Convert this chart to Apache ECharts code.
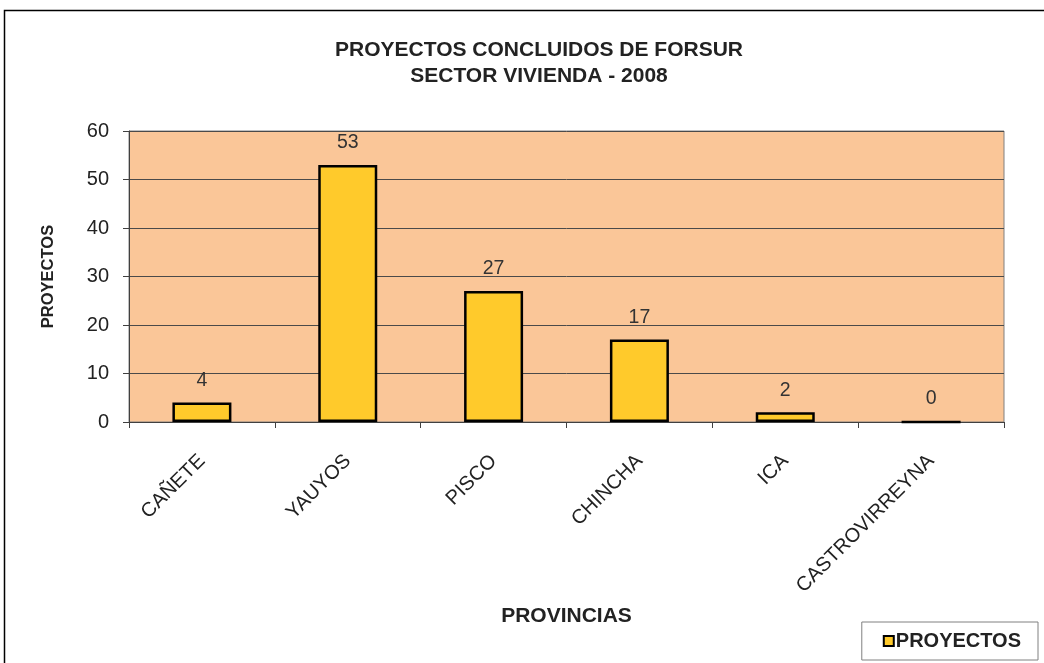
<!DOCTYPE html>
<html>
<head>
<meta charset="utf-8">
<script src="https://cdn.jsdelivr.net/npm/echarts@6/dist/echarts.min.js"></script>
<style>
  html, body { margin: 0; padding: 0; background: #fff; }
  #chart { width: 1044px; height: 663px; }
</style>
</head>
<body>
<div id="chart"></div>
<script>
// provincias y proyectos concluidos
const provincias = ["CAÑETE", "YAUYOS", "PISCO", "CHINCHA", "ICA", "CASTROVIRREYNA"];
const proyectos = [4, 53, 27, 17, 2, 0];
const yTicks = [0, 10, 20, 30, 40, 50, 60];

const font = "Liberation Sans, Arial, sans-serif";
const chart = echarts.init(document.getElementById("chart"));

chart.setOption({
  animation: false,
  textStyle: { fontFamily: font },
  graphic: [
    {
      type: "rect",
      shape: { x: 4.5, y: 10.5, width: 1060, height: 680 },
      style: { fill: "none", stroke: "#000", lineWidth: 1.5 },
      silent: true
    }
  ],
  title: {
    text: "PROYECTOS CONCLUIDOS DE FORSUR\nSECTOR VIVIENDA - 2008",
    left: 534,
    top: 32,
    textAlign: "center",
    textStyle: { fontSize: 21, fontWeight: "bold", color: "#222", lineHeight: 26, fontFamily: font }
  },
  legend: {
    data: ["PROYECTOS"],
    right: 6,
    bottom: 3,
    orient: "horizontal",
    icon: "rect",
    itemWidth: 10,
    itemHeight: 10,
    borderColor: "#808080",
    borderWidth: 1,
    padding: [9, 17, 9, 21],
    textStyle: { fontSize: 20, fontWeight: "bold", color: "#222", padding: [0, 0, 0, -3] }
  },
  grid: {
    left: 129,
    right: 40,
    top: 131,
    bottom: 241,
    show: true,
    backgroundColor: "#FAC698",
    borderColor: "#808080",
    borderWidth: 1
  },
  xAxis: {
    type: "category",
    data: provincias,
    name: "PROVINCIAS",
    nameLocation: "middle",
    nameGap: 184,
    nameTextStyle: { fontSize: 21, fontWeight: "bold", color: "#222" },
    axisLine: { lineStyle: { color: "#404040", width: 1 } },
    axisTick: { show: true, length: 6, lineStyle: { color: "#404040" } },
    axisLabel: { rotate: 45, fontSize: 20, color: "#222", margin: 36 }
  },
  yAxis: {
    type: "value",
    min: 0,
    max: 60,
    interval: 10,
    name: "PROYECTOS",
    nameLocation: "middle",
    nameGap: 72,
    nameTextStyle: { fontSize: 16.5, fontWeight: "bold", color: "#222" },
    axisLine: { show: true, lineStyle: { color: "#404040", width: 1 } },
    axisTick: { show: true, length: 6, lineStyle: { color: "#404040" } },
    axisLabel: {
      fontSize: 20,
      color: "#222",
      margin: 20,
      formatter: (v) => (yTicks.includes(v) ? String(v) : "")
    },
    splitLine: { lineStyle: { color: "#4a4a4a", width: 1 } }
  },
  series: [
    {
      name: "PROYECTOS",
      type: "bar",
      data: proyectos,
      barWidth: 59,
      itemStyle: { color: "#FFCA2B", borderColor: "#000", borderWidth: 2.5 },
      label: { show: true, position: "top", distance: 12, fontSize: 19.5, color: "#333" }
    }
  ]
});
</script>
</body>
</html>
